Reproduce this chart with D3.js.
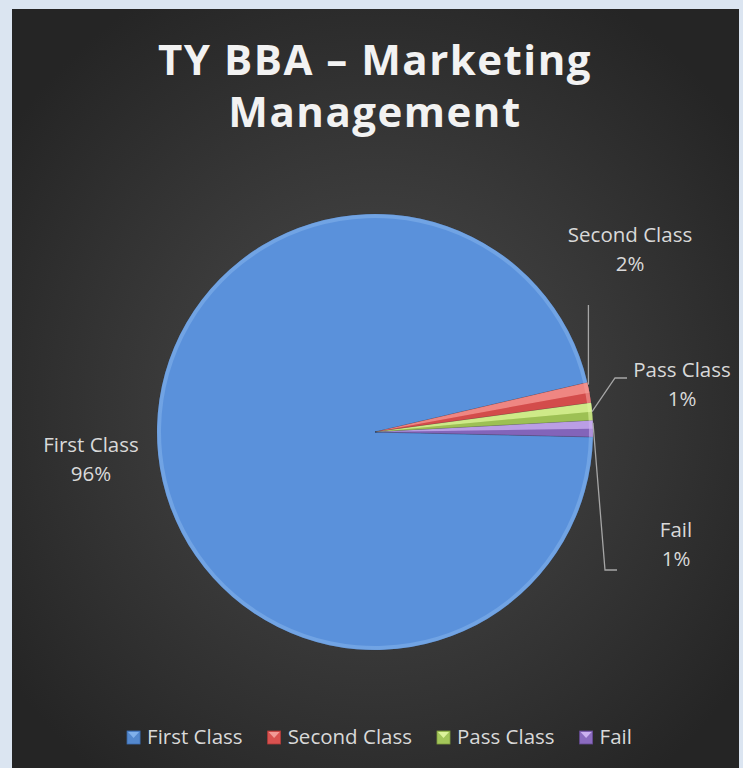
<!DOCTYPE html>
<html>
<head>
<meta charset="utf-8">
<script src="https://cdn.jsdelivr.net/npm/d3@7"></script>
<style>
  html, body { margin: 0; padding: 0; background: #dbe5f1; }
  svg { display: block; }
</style>
</head>
<body>
<div id="chart"></div>
<script>
// Chart data
const titleLines = ["TY BBA \u2013 Marketing", "Management"];
const categories = ["First Class", "Second Class", "Pass Class", "Fail"];
const shares = [96.0, 1.5, 1.3, 1.2];
const colors = ["#5488cd", "#d95250", "#a3c65a", "#8b6bbf"];
const lightColors = ["#80b0ea", "#f29a96", "#dcf39a", "#cbb0f0"];
const darkColors = ["#3c6fb5", "#b03a38", "#7f9d3e", "#654a94"];

const width = 743, height = 768;

const svg = d3.select("#chart").append("svg")
    .attr("width", width)
    .attr("height", height);

const defs = svg.append("defs");

// Background: light frame + dark radial panel
const bg = defs.append("radialGradient")
    .attr("id", "bgGrad")
    .attr("cx", "50%").attr("cy", "52%").attr("r", "62%");
bg.append("stop").attr("offset", "0%").attr("stop-color", "#4c4c4c");
bg.append("stop").attr("offset", "100%").attr("stop-color", "#252525");

svg.append("rect")
    .attr("width", width).attr("height", height)
    .attr("fill", "#dbe5f1");
svg.append("rect")
    .attr("x", 12).attr("y", 9)
    .attr("width", 727).attr("height", height - 9)
    .attr("fill", "url(#bgGrad)");

// Title
svg.append("g")
    .selectAll("text")
    .data(titleLines)
    .join("text")
    .attr("x", 375)
    .attr("y", (d, i) => 75 + i * 52)
    .attr("text-anchor", "middle")
    .attr("font-family", "'Open Sans', sans-serif")
    .attr("font-weight", "bold")
    .attr("font-size", 42)
    .attr("letter-spacing", 1.5)
    .attr("fill", "#f2f2f2")
    .text(d => d);

// Pie
const cx = 375, cy = 432, radius = 218;
const start = 91.3 * Math.PI / 180;

const pie = d3.pie()
    .sort(null)
    .value(d => d)
    .startAngle(start)
    .endAngle(start + 2 * Math.PI);

const arcs = pie(shares);

const arc = d3.arc().innerRadius(0).outerRadius(radius);
const rimArc = d3.arc().innerRadius(radius - 4).outerRadius(radius);

// per-slice vertical shading
categories.forEach(function(c, i) {
    const g = defs.append("linearGradient")
        .attr("id", "shade" + i)
        .attr("gradientUnits", "userSpaceOnUse")
        .attr("x1", 0).attr("y1", cy - radius)
        .attr("x2", 0).attr("y2", cy + radius);
    g.append("stop").attr("offset", "0%").attr("stop-color", d3.color(colors[i]).brighter(0.18));
    g.append("stop").attr("offset", "100%").attr("stop-color", d3.color(colors[i]).darker(0.12));

    const r = defs.append("linearGradient")
        .attr("id", "rim" + i)
        .attr("gradientUnits", "userSpaceOnUse")
        .attr("x1", cx - radius).attr("y1", cy - radius)
        .attr("x2", cx + radius * 0.4).attr("y2", cy + radius);
    r.append("stop").attr("offset", "0%").attr("stop-color", lightColors[i]).attr("stop-opacity", 0.6);
    r.append("stop").attr("offset", "55%").attr("stop-color", lightColors[i]).attr("stop-opacity", 0.15);
    r.append("stop").attr("offset", "100%").attr("stop-color", darkColors[i]).attr("stop-opacity", 0.5);
});

const pieG = svg.append("g")
    .attr("transform", "translate(" + cx + "," + cy + ")");

// main slices
pieG.selectAll(".slice")
    .data(arcs)
    .join("path")
    .attr("class", "slice")
    .attr("d", arc)
    .attr("fill", (d, i) => "url(#shade" + i + ")")
    .attr("stroke", "rgba(30,40,60,0.35)")
    .attr("stroke-width", 0.6);

// prism look on the thin slices: lighter upper half, darker lower half
pieG.selectAll(".facet")
    .data(arcs.slice(1))
    .join("path")
    .attr("class", "facet")
    .attr("d", d => arc({startAngle: d.startAngle, endAngle: (d.startAngle + d.endAngle) / 2}))
    .attr("fill", (d, i) => lightColors[i + 1])
    .attr("opacity", 0.7);

pieG.selectAll(".facetDark")
    .data(arcs.slice(1))
    .join("path")
    .attr("class", "facetDark")
    .attr("d", d => arc({startAngle: (d.startAngle + d.endAngle) / 2, endAngle: d.endAngle}))
    .attr("fill", (d, i) => darkColors[i + 1])
    .attr("opacity", 0.35);

// bevel rim
pieG.selectAll(".rim")
    .data(arcs)
    .join("path")
    .attr("class", "rim")
    .attr("d", rimArc)
    .attr("fill", (d, i) => "url(#rim" + i + ")")
    .attr("transform", "translate(" + (-cx) + "," + (-cy) + ")")
    .attr("transform", null);

// Leader lines and data labels
const labelFont = "'Open Sans', sans-serif";
const labelSize = 20.5;
const labelPos = [
    {x: 91, y: 452},
    {x: 630, y: 242},
    {x: 682, y: 377},
    {x: 676, y: 537}
];

function rimPoint(d) {
    const a = (d.startAngle + d.endAngle) / 2;
    return [cx + radius * Math.sin(a), cy - radius * Math.cos(a)];
}

const leaderRoutes = [
    null,
    d => { const p = rimPoint(d); return [[p[0] - 1, p[1] - 8], [p[0] - 1, 305]]; },
    d => { const p = rimPoint(d); return [p, [615, 378], [627, 378]]; },
    d => { const p = rimPoint(d); return [[p[0], p[1] - 6], [605, 570], [617, 570]]; }
];

svg.append("g")
    .selectAll("path")
    .data(arcs.filter((d, i) => leaderRoutes[i]))
    .join("path")
    .attr("d", d => d3.line()(leaderRoutes[d.index](d)))
    .attr("fill", "none")
    .attr("stroke", "#a6a6a6")
    .attr("stroke-width", 1.3);

const labels = svg.append("g")
    .selectAll("text")
    .data(arcs)
    .join("text")
    .attr("text-anchor", "middle")
    .attr("font-family", labelFont)
    .attr("font-size", labelSize)
    .attr("fill", "#d9d9d9");

labels.append("tspan")
    .attr("x", d => labelPos[d.index].x)
    .attr("y", d => labelPos[d.index].y)
    .text(d => categories[d.index]);
labels.append("tspan")
    .attr("x", d => labelPos[d.index].x)
    .attr("y", d => labelPos[d.index].y + 29)
    .text(d => Math.round(d.value / d3.sum(shares) * 100) + "%");

// Legend
const legend = svg.append("g");
const items = legend.selectAll("g")
    .data(categories)
    .join("g");

items.append("text")
    .attr("x", 20)
    .attr("y", 744)
    .attr("font-family", labelFont)
    .attr("font-size", labelSize)
    .attr("fill", "#d9d9d9")
    .text(d => d);

items.append("rect")
    .attr("x", 0).attr("y", 731)
    .attr("width", 13).attr("height", 13)
    .attr("fill", (d, i) => colors[i])
    .attr("stroke", (d, i) => darkColors[i])
    .attr("stroke-width", 0.8);
items.append("path")
    .attr("d", "M1,732L12,732L6.5,738Z")
    .attr("fill", (d, i) => lightColors[i]);

let offset = 0;
const widths = [];
items.each(function() {
    widths.push(20 + d3.select(this).select("text").node().getComputedTextLength());
});
const gap = 25;
const total = d3.sum(widths) + gap * (widths.length - 1);
offset = 379.5 - total / 2;
items.attr("transform", function(d, i) {
    const t = "translate(" + offset + ",0)";
    offset += widths[i] + gap;
    return t;
});
</script>
</body>
</html>
